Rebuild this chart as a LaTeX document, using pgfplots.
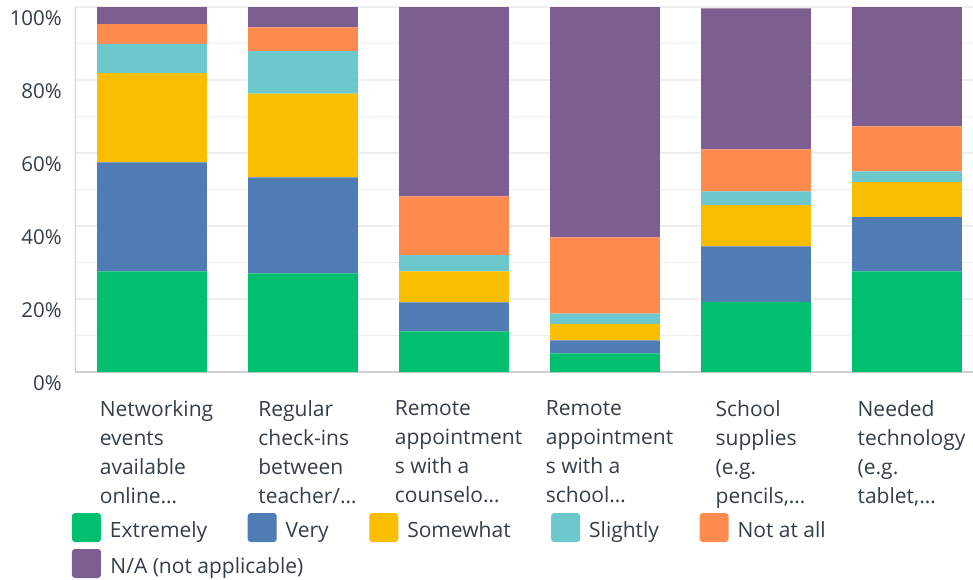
\documentclass[border=0pt]{standalone}
\usepackage{fontspec}
\setmainfont{Open Sans}
\usepackage{pgfplots}
\usepackage{pgfplotstable}
\pgfplotsset{compat=1.18}

\definecolor{cExt}{HTML}{00BF6F}
\definecolor{cVery}{HTML}{507CB6}
\definecolor{cSome}{HTML}{F9BE00}
\definecolor{cSli}{HTML}{6BC8CD}
\definecolor{cNot}{HTML}{FF8B4F}
\definecolor{cNA}{HTML}{7D5E90}
\definecolor{txt}{HTML}{333E48}
\definecolor{gridc}{HTML}{EDEEEE}
\definecolor{axisc}{HTML}{CFD1D2}

% share of answers per item (percent)
\pgfplotstableread{
x  ext   very  some  sli   notat  na
0  27.6  29.8  24.5  8.0   5.4    4.7
1  27.0  26.3  23.0  11.6  6.5    5.6
2  11.1  8.0   8.5   4.4   16.1   51.9
3  5.1   3.6   4.5   2.8   20.9   63.1
4  19.2  15.2  11.3  3.8   11.5   38.6
5  27.6  14.8  9.6   3.0   12.3   32.7
}\answers

\begin{document}
\begin{tikzpicture}
\begin{axis}[
    scale only axis,
    width=898pt, height=365pt,
    ybar stacked, bar width=0.728,
    xmin=-0.51, xmax=5.437,
    ymin=0, ymax=100,
    axis line style={draw=none},
    major tick length=0pt, minor tick length=0pt,
    xtick={0,...,5},
    xticklabels={
        {Networking\\events\\available\\online…},
        {Regular\\check-ins\\between\\teacher/…},
        {Remote\\appointment\\s with a\\counselo…},
        {Remote\\appointment\\s with a\\school…},
        {School\\supplies\\(e.g.\\pencils,…},
        {Needed\\technology\\(e.g.\\tablet,…}},
    xticklabel style={align=left, anchor=north, inner sep=0pt,
        yshift=-28pt, xshift=4.5pt, text=txt,
        font=\fontsize{21}{29}\selectfont},
    ytick={0,20,...,100},
    yticklabels={0\%,20\%,40\%,60\%,80\%,100\%},
    minor ytick={10,30,50,70,90},
    yticklabel style={anchor=east, inner sep=0pt, xshift=-13pt,
        yshift=-11pt, text=txt, font=\fontsize{20.5}{24}\selectfont},
    ymajorgrids, yminorgrids,
    major grid style={gridc, line width=1.4pt},
    minor grid style={gridc, line width=1.4pt},
    legend columns=5,
    legend cell align=left,
    legend image code/.code={
        \fill[#1, rounded corners=3pt] (0pt,-11.3pt) rectangle (29pt,17.7pt);},
    legend style={draw=none, fill=none, inner sep=0pt, outer sep=0pt,
        at={(-0.00334,-0.3863)}, anchor=north west,
        font=\fontsize{21}{25}\selectfont, text=txt,
        nodes={inner sep=0pt}, row sep=7pt,
        /tikz/every odd column/.append style={column sep=9pt},
        /tikz/every even column/.append style={column sep=40.5pt}},
]
\addplot[fill=cExt, draw=none] table[x=x, y=ext] {\answers};
\addplot[fill=cVery, draw=none] table[x=x, y=very] {\answers};
\addplot[fill=cSome, draw=none] table[x=x, y=some] {\answers};
\addplot[fill=cSli, draw=none] table[x=x, y=sli] {\answers};
\addplot[fill=cNot, draw=none] table[x=x, y=notat] {\answers};
\addplot[fill=cNA, draw=none] table[x=x, y=na] {\answers};
\legend{Extremely, Very, Somewhat, Slightly, Not at all,
    \makebox[0pt][l]{N/A (not applicable)}}
\draw[axisc, line width=1.4pt] (rel axis cs:0,0) -- (rel axis cs:0,1);
\draw[axisc, line width=2pt] (rel axis cs:0,0) -- (rel axis cs:1,0);
\coordinate (o) at (rel axis cs:0,0);
\end{axis}
\pgfresetboundingbox
\path ([shift={(-75pt,-207pt)}]o) rectangle ++(973pt,579pt);
\end{tikzpicture}
\end{document}
